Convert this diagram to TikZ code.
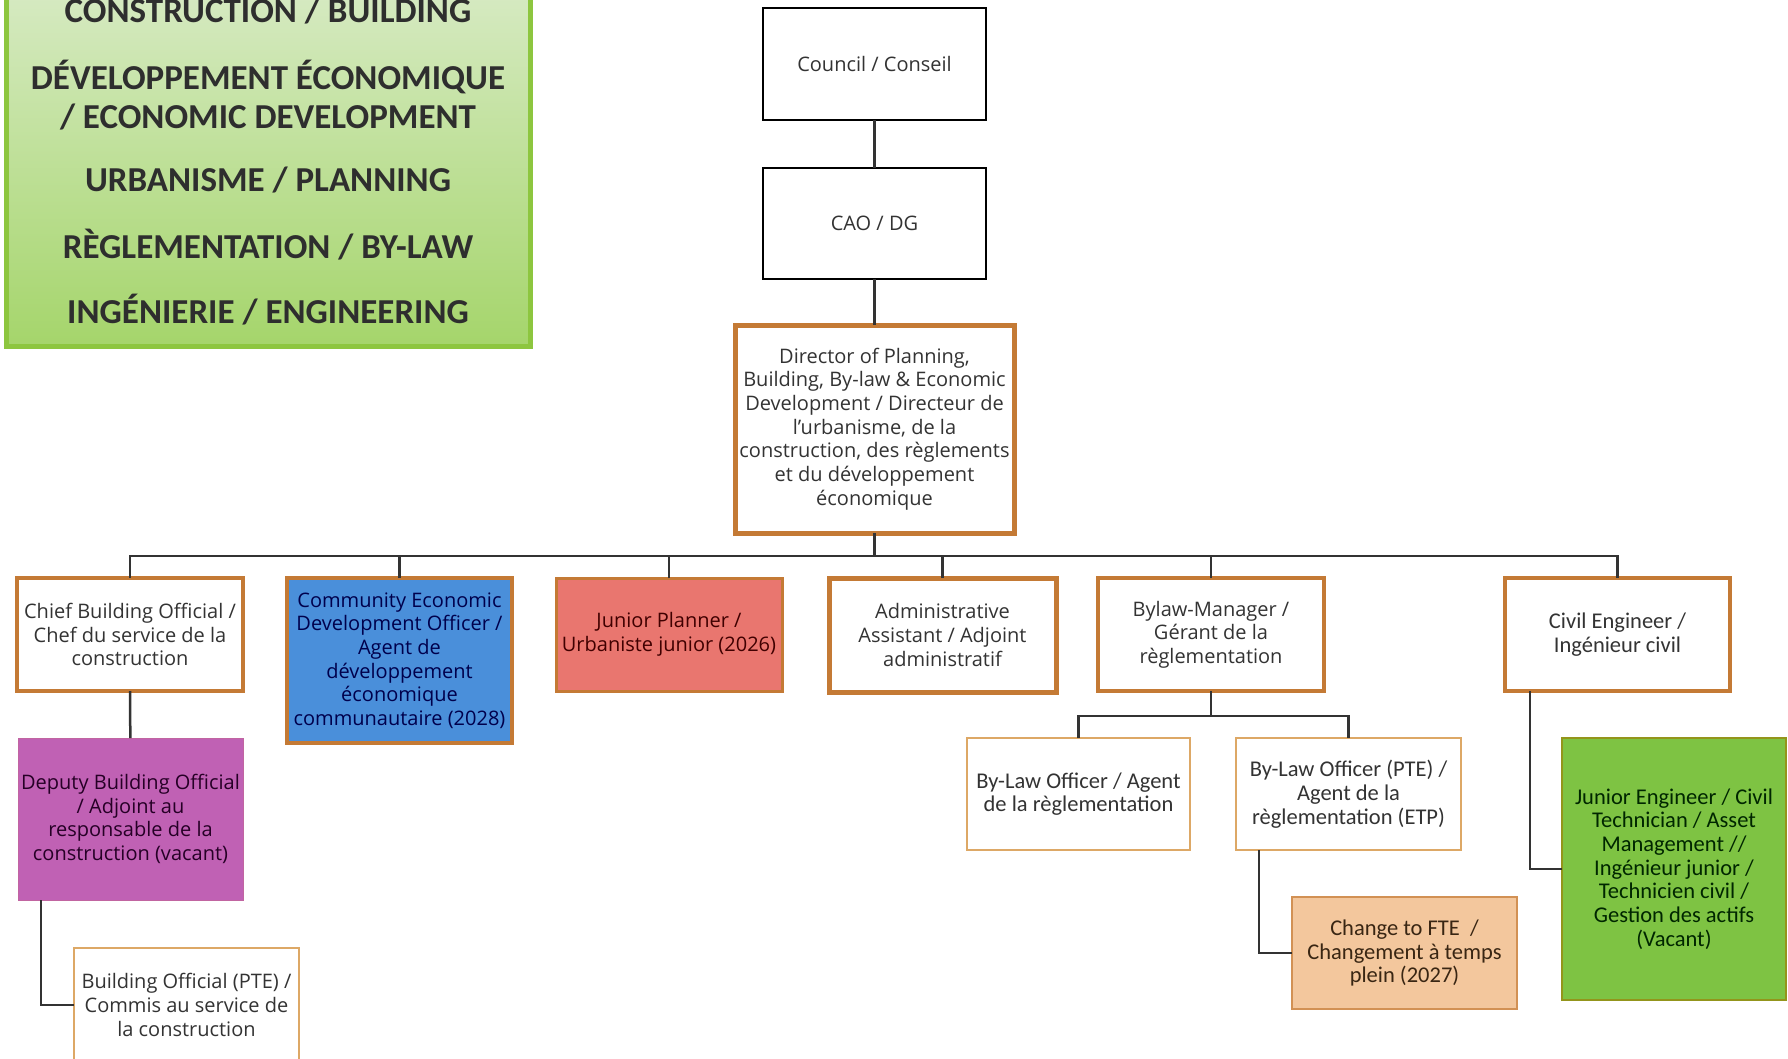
\documentclass[tikz,border=0pt]{standalone}
\usepackage{fontspec}
\setmainfont{Open Sans}
\newfontfamily\narrowfont{Carlito}
\usepackage{tikz}

\definecolor{orgline}{HTML}{C47A35}
\definecolor{paleorg}{HTML}{DDA866}
\definecolor{cedoblue}{HTML}{4A8FDA}
\definecolor{jpred}{HTML}{E9766F}
\definecolor{depmag}{HTML}{C061B4}
\definecolor{ftepeach}{HTML}{F3C79D}
\definecolor{jegreen}{HTML}{7EC343}
\definecolor{legtop}{HTML}{D6EAC2}
\definecolor{legbot}{HTML}{A5D56B}
\definecolor{legline}{HTML}{8DC63F}
\definecolor{linegray}{HTML}{333333}

\begin{document}
\begin{tikzpicture}[x=1pt,y=-1pt,
  box/.style={rectangle,inner sep=0pt,outer sep=0pt,align=center,fill=white,
    text=black!80,font=\fontsize{20}{23.7}\selectfont},
  narrow/.style={font=\narrowfont\fontsize{22.5}{23.7}\selectfont},
  blackbox/.style={box,draw=black,line width=2pt},
  orgbox/.style={box,draw=orgline,line width=3.5pt},
  thinbox/.style={box,draw=paleorg,line width=1.8pt},
  keytext/.style={align=center,inner sep=0pt,text=black!82,
    font=\narrowfont\bfseries\fontsize{35}{39}\selectfont},
  link/.style={draw=linegray,line width=2.5pt}]
 \useasboundingbox (0,0) rectangle (1788,1058);

 % legend
 \node [rectangle,draw=legline,line width=5pt,top color=legtop,bottom color=legbot,
   minimum width=524pt,minimum height=356pt] (key) at (268,168) {};
 \node [keytext] (kbuild) at (268,11) {CONSTRUCTION / BUILDING};
 \node [keytext] (kecon) at (268,95.5) {DÉVELOPPEMENT ÉCONOMIQUE\\/ ECONOMIC DEVELOPMENT};
 \node [keytext] (kplan) at (268,180) {URBANISME / PLANNING};
 \node [keytext] (klaw) at (268,245) {RÈGLEMENTATION / BY-LAW};
 \node [keytext] (keng) at (268,310) {INGÉNIERIE / ENGINEERING};

 % top of the chart
 \node [blackbox,minimum width=223pt,minimum height=112pt] (council) at (874.5,64) {Council / Conseil};
 \node [blackbox,minimum width=223pt,minimum height=111pt] (cao) at (874.5,223) {CAO / DG};
 \node [orgbox,line width=5pt,minimum width=279pt,minimum height=208pt] (director) at (874.5,429)
   {Director of Planning,\\Building, By-law \& Economic\\Development / Directeur de\\l’urbanisme, de la\\construction, des règlements\\et du développement\\économique};

 % first row
 \node [orgbox,minimum width=226pt,minimum height=113pt] (cbo) at (130,634.5)
   {Chief Building Official /\\Chef du service de la\\construction};
 \node [orgbox,fill=cedoblue,text=blue!30!black,minimum width=225pt,minimum height=165pt] (cedo) at (399.5,660.5)
   {Community Economic\\Development Officer /\\Agent de\\développement\\économique\\communautaire (2028)};
 \node [orgbox,line width=3pt,fill=jpred,text=red!25!black,minimum width=226pt,minimum height=113pt] (jp) at (669,634.5)
   {Junior Planner /\\Urbaniste junior (2026)};
 \node [orgbox,line width=5pt,minimum width=227pt,minimum height=114pt] (admin) at (942.5,635)
   {Administrative\\Assistant / Adjoint\\administratif};
 \node [orgbox,minimum width=226pt,minimum height=113pt] (bm) at (1211,634.5)
   {Bylaw-Manager /\\Gérant de la\\règlementation};
 \node [orgbox,narrow,minimum width=225pt,minimum height=113pt] (ce) at (1617.5,634.5)
   {Civil Engineer /\\Ingénieur civil};

 % lower rows
 \node [box,draw=depmag!85!orgline,line width=1pt,fill=depmag,text=violet!30!black,
   minimum width=225pt,minimum height=162pt] (deputy) at (130.5,819)
   {Deputy Building Official\\/ Adjoint au\\responsable de la\\construction (vacant)};
 \node [thinbox,minimum width=225pt,minimum height=114pt] (bo) at (186.5,1005)
   {Building Official (PTE) /\\Commis au service de\\la construction};
 \node [thinbox,narrow,minimum width=223pt,minimum height=112pt] (blo) at (1078.5,794)
   {By-Law Officer / Agent\\de la règlementation};
 \node [thinbox,narrow,minimum width=225pt,minimum height=112pt] (blopte) at (1348.5,794)
   {By-Law Officer (PTE) /\\Agent de la\\règlementation (ETP)};
 \node [thinbox,narrow,draw=orgline!70!ftepeach,fill=ftepeach,text=brown!30!black,
   minimum width=225pt,minimum height=112pt] (fte) at (1404.5,953)
   {Change to FTE~ /\\Changement à temps\\plein (2027)};
 \node [thinbox,narrow,draw=olive!70!jegreen,fill=jegreen,text=black!85!green,
   minimum width=224pt,minimum height=262pt] (je) at (1674,869)
   {Junior Engineer / Civil\\Technician / Asset\\Management //\\Ingénieur junior /\\Technicien civil /\\Gestion des actifs\\(Vacant)};

 % connectors
 \coordinate (bar) at (874.5,556);
 \coordinate (bmfork) at (1211,716);
 \draw [link] (council) -- (cao);
 \draw [link] (cao) -- (director);
 \draw [link] (director.south) -- (bar);
 \draw [link] (cbo.north) |- (bar) -| (ce.north);
 \foreach \who in {cedo,jp,admin,bm}
   \draw [link] (\who.north) -- (\who.north |- bar);
 \draw [link] (cbo) -- (deputy);
 \draw [link] ([xshift=23pt]deputy.south west) |- (bo.west);
 \draw [link] (bm.south) -- (bmfork);
 \draw [link] (blo.north) |- (bmfork) -| (blopte.north);
 \draw [link] ([xshift=23pt]blopte.south west) |- (fte.west);
 \draw [link] ([xshift=25pt]ce.south west) |- (je.west);
\end{tikzpicture}
\end{document}
